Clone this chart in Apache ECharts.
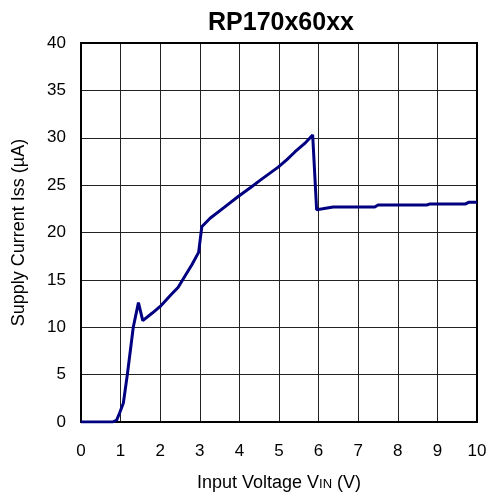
<!DOCTYPE html>
<html>
<head>
<meta charset="utf-8">
<script src="https://cdn.jsdelivr.net/npm/echarts@6/dist/echarts.min.js"></script>
</head>
<body style="margin:0">
<div id="chart" style="width:486px;height:496px;"></div>
<script>
// input voltage (V) and supply current (uA)
var vin = [0, 0.5, 0.8, 0.9, 0.98, 1.07, 1.17, 1.32, 1.45, 1.56, 1.8, 2.0, 2.29, 2.45, 2.58, 2.8, 2.97, 3.05, 3.26, 3.6, 3.97, 4.3, 4.52, 4.98, 5.2, 5.4, 5.65, 5.85, 5.95, 6.1, 6.37, 7.0, 7.42, 7.5, 8.0, 8.73, 8.8, 9.3, 9.7, 9.8, 10];
var iss = [0, 0, 0, 0.2, 1.0, 2.0, 5.0, 10.0, 12.6, 10.7, 11.5, 12.2, 13.5, 14.2, 15.1, 16.6, 17.9, 20.6, 21.5, 22.6, 23.8, 24.8, 25.5, 26.9, 27.7, 28.5, 29.4, 30.3, 22.4, 22.5, 22.7, 22.7, 22.7, 22.9, 22.9, 22.9, 23.0, 23.0, 23.0, 23.2, 23.2];

var chart = echarts.init(document.getElementById('chart'));
chart.setOption({
  animation: false,
  title: {
    text: 'RP170x60xx',
    left: 276,
    textAlign: 'center',
    top: 6,
    textStyle: { fontFamily: 'Liberation Sans', fontWeight: 'bold', fontSize: 25, color: '#000' }
  },
  grid: { left: 81, right: 9, top: 43, bottom: 74, outerBoundsMode: 'none' },
  xAxis: {
    type: 'value',
    min: 0, max: 10, interval: 1,
    name: 'Input Voltage V{s|IN} (V)',
    nameLocation: 'middle',
    nameGap: 52,
    nameTextStyle: {
      fontFamily: 'Liberation Sans', fontSize: 18, color: '#000',
      rich: { s: { fontFamily: 'Liberation Sans', fontSize: 13, color: '#000', padding: [3, 0, 0, 0] } }
    },
    axisLine: { show: false },
    axisTick: { show: false },
    axisLabel: { fontFamily: 'Liberation Sans', fontSize: 17, color: '#000', margin: 21 },
    splitLine: { lineStyle: { color: '#222', width: 1 } }
  },
  yAxis: {
    type: 'value',
    min: 0, max: 40, interval: 5,
    name: 'Supply Current Iss (\u00b5A)',
    nameLocation: 'middle',
    nameGap: 53,
    nameTextStyle: { fontFamily: 'Liberation Sans', fontSize: 18, color: '#000' },
    axisLine: { show: false },
    axisTick: { show: false },
    axisLabel: { fontFamily: 'Liberation Sans', fontSize: 17, color: '#000', margin: 15 },
    splitLine: { lineStyle: { color: '#222', width: 1 } }
  },
  series: [
    {
      type: 'line',
      data: vin.map(function (v, i) { return [v, iss[i]]; }),
      showSymbol: false,
      lineStyle: { color: '#000080', width: 3 },
      z: 3
    }
  ],
  graphic: [
    {
      type: 'rect',
      shape: { x: 81, y: 43, width: 396, height: 379 },
      style: { fill: 'none', stroke: '#000', lineWidth: 2 },
      z: 1
    }
  ]
});
</script>
</body>
</html>
